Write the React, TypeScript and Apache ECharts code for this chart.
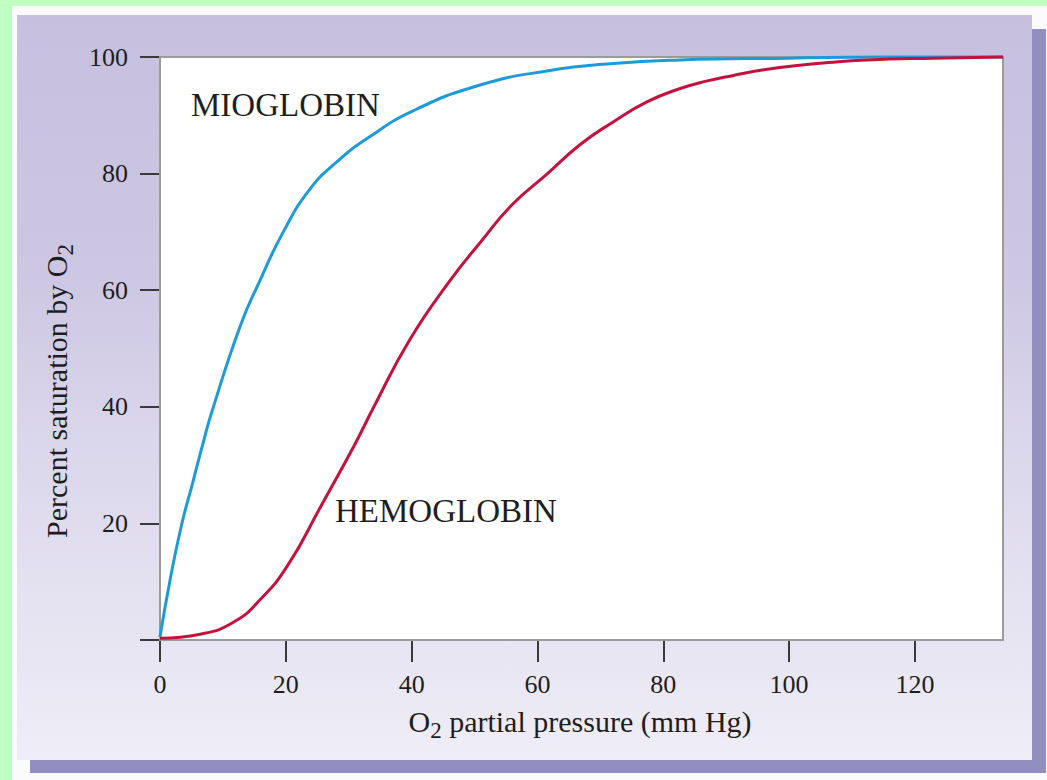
import React, { useEffect, useRef } from "react";
import * as echarts from "echarts";

// O2 partial pressure (mm Hg) and percent saturation
const myoglobinX = [0, 1.6, 3.4, 5.3, 6.9, 8.2, 12.7, 15.9, 19.6, 23.8, 28.1, 32.9, 40.3, 50.9, 61.5, 72.1, 82.7, 100, 115, 134];
const myoglobinY = [0.5, 10.3, 19.6, 27.4, 34, 39, 53.7, 61.7, 70, 77.3, 82, 86, 90.8, 95.2, 97.6, 98.9, 99.5, 99.8, 100, 100];

const hemoglobinX = [0, 6.4, 11.6, 15.9, 20.3, 25.6, 30.9, 33.9, 39.7, 46, 51, 56, 61.5, 66.8, 72.1, 77.4, 82.7, 87, 91, 96, 101.7, 107, 112.4, 123, 134];
const hemoglobinY = [0.3, 1, 3, 6.9, 12.8, 23, 33.4, 39.8, 51.5, 61.5, 68.3, 74.7, 79.9, 85, 88.9, 92.3, 94.6, 95.9, 96.8, 97.8, 98.6, 99.1, 99.5, 99.8, 100];

const xTicks = [0, 20, 40, 60, 80, 100, 120];
const yTicks = [0, 20, 40, 60, 80, 100];

const seriesNames = ["MIOGLOBIN", "HEMOGLOBIN"];
const xTitle = "O{sub|2} partial pressure (mm Hg)";
const yTitle = "Percent saturation by O{sub|2}";

const FONT = "Liberation Serif";

export default function App() {
  const ref = useRef<HTMLDivElement>(null);

  useEffect(() => {
    if (!ref.current) return;
    const chart = echarts.init(ref.current, null, { renderer: "svg" });
    const pairs = (xs: number[], ys: number[]) => xs.map((x, i) => [x, ys[i]]);

    const subRich = {
      sub: { fontSize: 23, fontFamily: FONT, fill: "#1e1e1e", padding: [19, 0, 0, 0] },
    };

    chart.setOption({
      animation: false,
      backgroundColor: "#c1fec1",
      grid: {
        left: 160,
        top: 57,
        right: 44,
        bottom: 140,
        show: true,
        backgroundColor: "#ffffff",
        borderColor: "#9b9b9b",
        borderWidth: 2,
        z: 2,
      },
      xAxis: {
        type: "value",
        min: 0,
        max: 134,
        interval: 20,
        axisLine: { show: true, lineStyle: { color: "#8f8f8f", width: 2 } },
        axisTick: {
          show: true,
          inside: false,
          length: 22,
          customValues: xTicks,
          lineStyle: { color: "#3a3a3a", width: 2 },
        },
        axisLabel: {
          customValues: xTicks,
          margin: 31,
          fontFamily: FONT,
          fontSize: 26,
          color: "#1e1e1e",
        },
        splitLine: { show: false },
      },
      yAxis: {
        type: "value",
        min: 0,
        max: 100,
        interval: 20,
        axisLine: { show: true, lineStyle: { color: "#8f8f8f", width: 2 } },
        axisTick: {
          show: true,
          inside: false,
          length: 20,
          customValues: yTicks,
          lineStyle: { color: "#3a3a3a", width: 2 },
        },
        axisLabel: {
          margin: 32,
          fontFamily: FONT,
          fontSize: 26,
          color: "#1e1e1e",
          formatter: (v: number) => (v === 0 ? "" : String(v)),
        },
        splitLine: { show: false },
      },
      graphic: [
        { type: "rect", z: -30, silent: true, shape: { x: 12, y: 6, width: 1035, height: 774 }, style: { fill: "#fbfbfd" } },
        { type: "rect", z: -29, silent: true, shape: { x: 30, y: 29, width: 1016, height: 744 }, style: { fill: "#928ec0" } },
        {
          type: "rect",
          z: -28,
          silent: true,
          shape: { x: 17, y: 15, width: 1015, height: 745 },
          style: {
            fill: {
              type: "linear",
              x: 0,
              y: 0,
              x2: 0,
              y2: 1,
              colorStops: [
                { offset: 0, color: "#c7bfde" },
                { offset: 0.35, color: "#cdc7e3" },
                { offset: 0.6, color: "#dcd8ec" },
                { offset: 1, color: "#efedf7" },
              ],
            },
          },
        },
        {
          type: "text",
          z: 100,
          x: 191,
          y: 105,
          style: { text: seriesNames[0], fontFamily: FONT, fontSize: 33, fill: "#1e1e1e", align: "left", verticalAlign: "middle" },
        },
        {
          type: "text",
          z: 100,
          x: 335,
          y: 511,
          style: { text: seriesNames[1], fontFamily: FONT, fontSize: 33, fill: "#1e1e1e", align: "left", verticalAlign: "middle" },
        },
        {
          type: "text",
          z: 100,
          x: 580,
          y: 721,
          style: {
            text: xTitle,
            fontFamily: FONT,
            fontSize: 30,
            fill: "#1e1e1e",
            align: "center",
            verticalAlign: "middle",
            rich: subRich,
          },
        },
        {
          type: "text",
          z: 100,
          x: 56,
          y: 391,
          rotation: Math.PI / 2,
          style: {
            text: yTitle,
            fontFamily: FONT,
            fontSize: 30,
            fill: "#1e1e1e",
            align: "center",
            verticalAlign: "middle",
            rich: subRich,
          },
        },
      ],
      series: [
        {
          name: seriesNames[0],
          type: "line",
          data: pairs(myoglobinX, myoglobinY),
          smooth: 0.5,
          showSymbol: false,
          clip: false,
          z: 3,
          lineStyle: { color: "#1e9bd7", width: 3 },
        },
        {
          name: seriesNames[1],
          type: "line",
          data: pairs(hemoglobinX, hemoglobinY),
          smooth: 0.5,
          showSymbol: false,
          clip: false,
          z: 4,
          lineStyle: { color: "#c4123f", width: 3 },
        },
      ],
    });

    return () => chart.dispose();
  }, []);

  return (
    <div
      ref={ref}
      style={{ position: "absolute", left: 0, top: 0, width: 1047, height: 780 }}
    />
  );
}
